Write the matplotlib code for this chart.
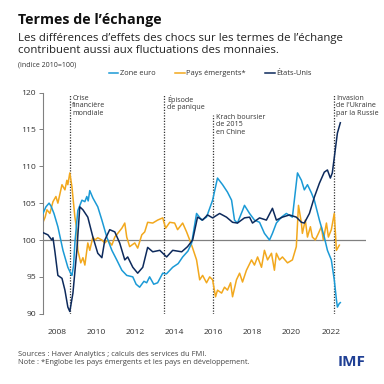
import matplotlib
matplotlib.use("Agg")
import matplotlib.pyplot as plt

plt.rcParams['font.family'] = ['Open Sans', 'DejaVu Sans']

#%% Data (indice 2010=100)
euro_t = [2007.29, 2007.44, 2007.6, 2007.7, 2007.85, 2008.05, 2008.31, 2008.56, 2008.72, 2008.77,
          2008.85, 2008.92, 2009.07, 2009.28, 2009.43, 2009.53, 2009.6, 2009.68, 2009.84, 2010.09,
          2010.3, 2010.55, 2010.81, 2011.06, 2011.32, 2011.57, 2011.88, 2012.05, 2012.23, 2012.45,
          2012.59, 2012.74, 2012.95, 2013.15, 2013.41, 2013.6, 2013.92, 2014.2, 2014.43, 2014.7,
          2014.89, 2015.14, 2015.4, 2015.65, 2015.96, 2016.21, 2016.47, 2016.72, 2016.93, 2017.08,
          2017.23, 2017.49, 2017.59, 2017.85, 2018.1, 2018.36, 2018.61, 2018.87, 2019.02, 2019.22,
          2019.48, 2019.73, 2020.04, 2020.3, 2020.5, 2020.65, 2020.81, 2021.01, 2021.16, 2021.42,
          2021.67, 2021.83, 2022.03, 2022.18, 2022.29, 2022.34, 2022.44, 2022.49]
euro_v = [103.6, 104.5, 105.0, 104.6, 103.6, 101.8, 98.6, 96.3, 95.4, 95.2,
          96.5, 99.6, 104.0, 105.4, 105.2, 105.9, 105.3, 106.7, 105.7, 104.5,
          102.7, 100.4, 98.6, 97.3, 95.9, 95.2, 95.0, 94.0, 93.6, 94.4,
          94.2, 95.0, 94.0, 94.2, 95.5, 95.4, 96.3, 96.8, 97.7, 98.5,
          99.6, 103.6, 102.7, 103.1, 105.4, 108.4, 107.5, 106.5, 105.4, 102.7,
          102.3, 104.0, 104.7, 103.6, 102.7, 102.4, 100.9, 100.0, 100.9, 102.3,
          103.1, 103.6, 103.1, 109.1, 108.1, 106.8, 107.5, 106.4, 105.4, 102.7,
          100.4, 98.6, 97.3, 94.6, 91.9, 90.9, 91.4, 91.5]

em_t = [2007.29, 2007.4, 2007.49, 2007.64, 2007.8, 2007.95, 2008.05, 2008.26, 2008.41, 2008.51,
        2008.56, 2008.66, 2008.77, 2008.82, 2008.92, 2009.02, 2009.07, 2009.22, 2009.33, 2009.43,
        2009.53, 2009.58, 2009.68, 2009.84, 2009.94, 2010.09, 2010.3, 2010.45, 2010.6, 2010.81,
        2010.96, 2011.11, 2011.32, 2011.47, 2011.57, 2011.72, 2011.98, 2012.13, 2012.34, 2012.49,
        2012.64, 2012.9, 2013.15, 2013.41, 2013.56, 2013.77, 2014.02, 2014.17, 2014.43, 2014.63,
        2014.79, 2014.94, 2015.14, 2015.3, 2015.45, 2015.65, 2015.81, 2015.96, 2016.11, 2016.21,
        2016.42, 2016.57, 2016.72, 2016.88, 2016.98, 2017.18, 2017.34, 2017.49, 2017.69, 2017.95,
        2018.1, 2018.26, 2018.46, 2018.61, 2018.77, 2018.97, 2019.12, 2019.22, 2019.38, 2019.53,
        2019.79, 2020.04, 2020.24, 2020.35, 2020.5, 2020.55, 2020.7, 2020.81, 2020.96, 2021.06,
        2021.21, 2021.37, 2021.52, 2021.62, 2021.78, 2021.88, 2022.03, 2022.18, 2022.29, 2022.44]
em_v = [102.4, 103.1, 104.1, 103.6, 105.2, 105.9, 105.0, 107.5, 106.8, 108.1,
        107.5, 109.1, 107.2, 105.8, 103.1, 101.4, 98.6, 96.9, 97.6, 96.6,
        98.6, 99.6, 98.6, 100.4, 100.0, 100.3, 100.0, 99.6, 100.0, 99.3,
        100.4, 100.9, 101.6, 102.3, 100.4, 99.1, 99.6, 98.9, 100.7, 101.1,
        102.4, 102.3, 102.7, 103.0, 101.6, 102.4, 102.3, 101.4, 102.3, 101.1,
        100.0, 98.9, 97.3, 94.6, 95.2, 94.2, 95.0, 94.6, 92.3, 93.2,
        92.8, 93.6, 93.2, 94.2, 92.3, 94.6, 95.5, 94.3, 95.9, 97.3,
        96.6, 97.7, 96.3, 98.6, 97.3, 98.2, 95.9, 98.2, 97.3, 97.7,
        96.9, 97.3, 99.1, 104.7, 102.3, 100.9, 102.7, 100.4, 101.8, 100.4,
        100.0, 100.9, 101.8, 100.0, 102.3, 100.4, 101.4, 103.6, 98.6, 99.3]

us_t = [2007.29, 2007.54, 2007.74, 2007.8, 2007.9, 2008.05, 2008.26, 2008.41, 2008.56, 2008.66,
        2008.82, 2009.02, 2009.17, 2009.33, 2009.58, 2009.84, 2010.09, 2010.3, 2010.45, 2010.7,
        2010.96, 2011.21, 2011.47, 2011.62, 2011.88, 2012.13, 2012.39, 2012.64, 2012.9, 2013.26,
        2013.61, 2013.92, 2014.38, 2014.68, 2014.94, 2015.19, 2015.45, 2015.7, 2015.96, 2016.32,
        2016.67, 2016.98, 2017.23, 2017.59, 2017.85, 2018.0, 2018.36, 2018.71, 2019.02, 2019.22,
        2019.53, 2019.89, 2020.24, 2020.5, 2020.65, 2020.91, 2021.16, 2021.42, 2021.67, 2021.83,
        2021.98, 2022.08, 2022.23, 2022.34, 2022.49]
us_v = [101.0, 100.7, 100.0, 100.3, 98.4, 95.2, 94.8, 93.2, 90.9, 90.3,
        92.8, 98.6, 104.5, 104.1, 103.1, 100.4, 98.2, 97.6, 100.0, 101.4,
        101.1, 99.6, 97.3, 97.7, 96.3, 95.5, 96.3, 99.0, 98.4, 98.6,
        97.7, 98.6, 98.4, 99.1, 100.0, 103.1, 102.7, 103.4, 103.0, 103.6,
        103.1, 102.4, 102.3, 103.0, 103.1, 102.3, 103.0, 102.7, 104.3, 102.7,
        103.1, 103.4, 103.1, 102.4, 102.3, 103.6, 105.8, 107.7, 109.2, 109.5,
        108.4, 109.1, 112.2, 114.5, 115.9]

event_x = [2008.66, 2013.5, 2016.0, 2022.15]
event_top = [119.6, 119.6, 117.0, 119.6]
event_labels = ["Crise\nfinancière\nmondiale", "Épisode\nde panique",
                "Krach boursier\nde 2015\nen Chine", "Invasion\nde l'Ukraine\npar la Russie"]

years = [2008, 2010, 2012, 2014, 2016, 2018, 2020, 2022]

#%% Figure
C_EURO = "#1b9ad6"
C_EM = "#f2a81d"
C_US = "#0d2a5c"

fig = plt.figure(figsize=(3.84, 3.84), dpi=100)
ax = fig.add_axes([0.112, 0.183, 0.841, 0.576])

ax.axhline(100, color="#808080", lw=0.9, zorder=1)
for x, top in zip(event_x, event_top):
    ax.plot([x, x], [90, top], color="#333333", ls=(0, (1, 1.2)), lw=0.9, zorder=1)
for x, top, lab in zip(event_x, event_top, event_labels):
    ax.text(x + 0.12, top + 0.1, lab, fontsize=5.1, va="top", ha="left", color="#333333",
            linespacing=1.1)

ax.plot(euro_t, euro_v, color=C_EURO, lw=1.1, label="Zone euro", zorder=3)
ax.plot(em_t, em_v, color=C_EM, lw=1.1, label="Pays émergents*", zorder=2)
ax.plot(us_t, us_v, color=C_US, lw=1.1, label="États-Unis", zorder=4)

ax.set_xlim(2007.29, 2023.8)
ax.set_ylim(90, 120)
ax.set_yticks([90, 95, 100, 105, 110, 115, 120])
ax.set_xticks(years)
ax.tick_params(axis="x", length=0, pad=11, labelsize=6.1, labelcolor="#333333")
ax.tick_params(axis="y", length=3, width=0.7, color="#808080", pad=2, labelsize=6.1,
               labelcolor="#333333")
for s in ["top", "right", "bottom"]:
    ax.spines[s].set_visible(False)
ax.spines["left"].set_color("#808080")
ax.spines["left"].set_linewidth(0.8)

fig.legend(loc="center", bbox_to_anchor=(0.548, 0.808), ncol=3, frameon=False, fontsize=5.4,
           handlelength=1.3, handletextpad=0.2, columnspacing=2.6, labelcolor="#333333")

#%% Text
fig.text(0.047, 0.967, "Termes de l’échange", fontsize=10.3, fontweight="bold", va="top",
         color="#111111")
fig.text(0.047, 0.915, "Les différences d’effets des chocs sur les termes de l’échange\n"
         "contribuent aussi aux fluctuations des monnaies.", fontsize=8.2, va="top",
         color="#222222", linespacing=1.2)
fig.text(0.047, 0.84, "(indice 2010=100)", fontsize=5.0, va="top", color="#333333")
fig.text(0.047, 0.087, "Sources : Haver Analytics ; calculs des services du FMI.\n"
         "Note : *Englobe les pays émergents et les pays en développement.",
         fontsize=5.4, va="top", color="#444444", linespacing=1.2)
fig.text(0.952, 0.058, "IMF", fontsize=11, fontweight="bold", ha="right", va="center",
         color="#1f3f94")

fig.savefig("out.png", dpi=100)
